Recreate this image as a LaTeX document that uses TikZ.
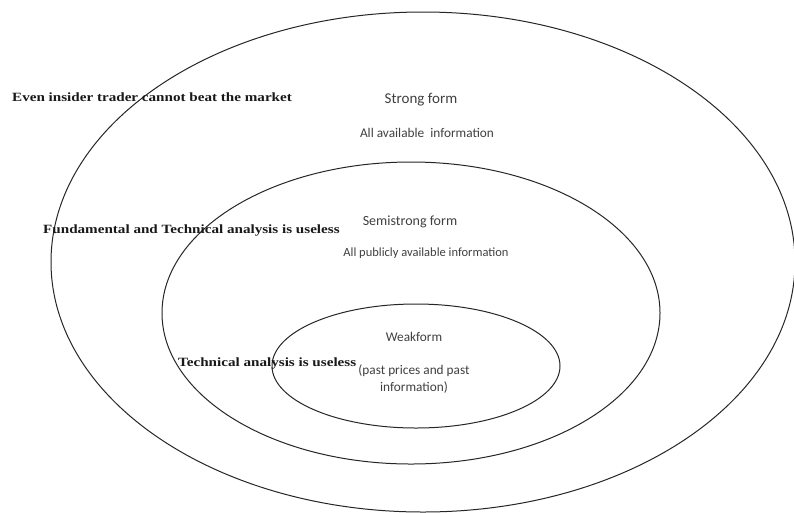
\documentclass[tikz,border=0pt]{standalone}
\usepackage{fontspec}
\setmainfont{Liberation Serif}
\newfontfamily\boldserif[FakeStretch=1.2]{Liberation Serif}
\newfontfamily\calib{Carlito}
\begin{document}
\begin{tikzpicture}[x=1pt,y=-1pt,
  ring/.style={draw=black!85,line width=1pt},
  claim/.style={inner sep=0pt,anchor=west,text=black!90,font=\boldserif\bfseries\fontsize{12.6}{14}\selectfont},
  formlbl/.style={inner sep=0pt,text=black!75,font=\calib\fontsize{13.3}{17.5}\selectfont,align=center}]
\useasboundingbox (0,0) rectangle (794,512);
\fill[white] (0,0) rectangle (794,512);
% nested ellipses
\draw[ring] (423,262) ellipse [x radius=372, y radius=250];
\draw[ring] (411,313) ellipse [x radius=249, y radius=151];
\draw[ring] (416,366) ellipse [x radius=144, y radius=62];
% labels
\node[claim] (c1) at (12,97) {Even insider trader cannot beat the market};
\node[formlbl,font=\calib\fontsize{15}{17}\selectfont] (s1) at (421,100) {Strong form};
\node[formlbl] (s2) at (427,133) {All available\ \ information};
\node[claim] (c2) at (43,230) {Fundamental and Technical analysis is useless};
\node[formlbl,font=\calib\fontsize{14}{17}\selectfont] (m1) at (410,222) {Semistrong form};
\node[formlbl,font=\calib\fontsize{12.5}{17}\selectfont] (m2) at (426,253) {All publicly available information};
\node[formlbl] (w1) at (414,337) {Weakform};
\node[formlbl] (w2) at (414,379) {(past prices and past\\information)};
\node[claim] (c3) at (178,363) {Technical analysis is useless};
\end{tikzpicture}
\end{document}
